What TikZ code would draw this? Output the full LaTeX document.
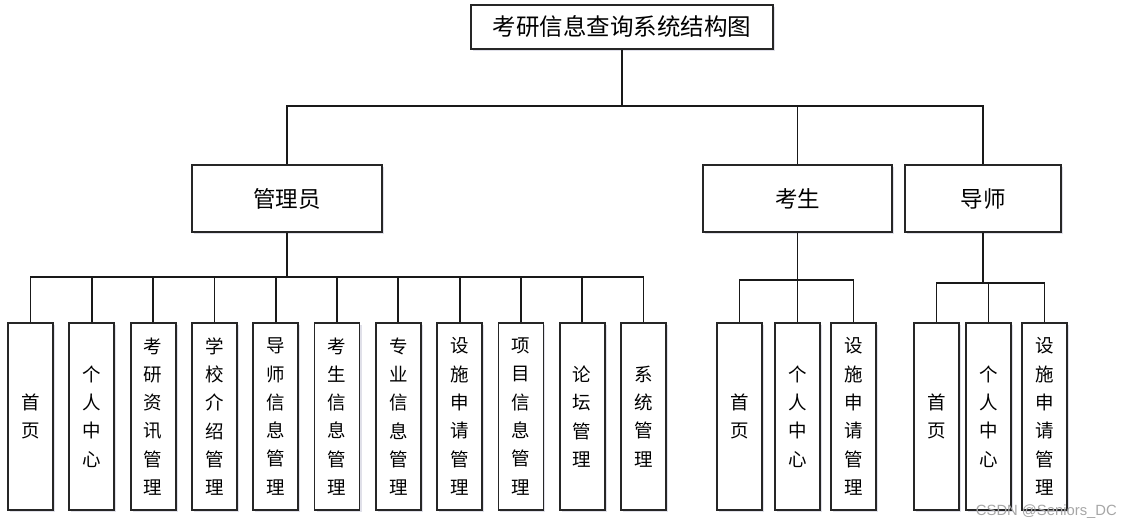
\documentclass[tikz,border=0pt]{standalone}
\usepackage{fontspec}
\setmainfont{Liberation Sans}
\newfontfamily\cjk{Noto Sans CJK SC}
\usetikzlibrary{shadows}
\begin{document}
\begin{tikzpicture}[x=1pt,y=-1pt,
  box/.style={draw=black!85, line width=1.8pt, fill=white, inner sep=0pt,
    drop shadow={shadow xshift=2pt, shadow yshift=-2pt, fill=blue!30!black, opacity=0.12}},
  titlebox/.style={box, minimum width=302pt, minimum height=44pt, font=\cjk\fontsize{23.5}{28}\selectfont},
  midbox/.style={box, minimum height=67pt, font=\cjk\fontsize{22.5}{27}\selectfont},
  leaf/.style={box, minimum width=45pt, minimum height=187pt, align=center,
    font=\cjk\fontsize{18.5}{28.3}\selectfont},
  conn/.style={draw=black!90, line width=1.8pt},
  wm/.style={text=black!35, font=\fontsize{14.8}{16}\selectfont, inner sep=0pt, anchor=base east}]
\useasboundingbox (0,0) rectangle (1133,526);

% top
\node[titlebox] (title) at (622,27) {考研信息查询系统结构图};

% second level
\node[midbox, minimum width=190pt] (adm) at (287,198.5) {管理员};
\node[midbox, minimum width=189pt] (stu) at (797.5,198.5) {考生};
\node[midbox, minimum width=156pt] (tut) at (983,198.5) {导师};

% admin leaves
\node[leaf] (a1) at (30.5,416.5) {首\\页};
\node[leaf] (a2) at (91.8,416.5) {个\\人\\中\\心};
\node[leaf] (a3) at (153.1,416.5) {考\\研\\资\\讯\\管\\理};
\node[leaf] (a4) at (214.4,416.5) {学\\校\\介\\绍\\管\\理};
\node[leaf] (a5) at (275.7,416.5) {导\\师\\信\\息\\管\\理};
\node[leaf] (a6) at (337.0,416.5) {考\\生\\信\\息\\管\\理};
\node[leaf] (a7) at (398.3,416.5) {专\\业\\信\\息\\管\\理};
\node[leaf] (a8) at (459.6,416.5) {设\\施\\申\\请\\管\\理};
\node[leaf] (a9) at (520.9,416.5) {项\\目\\信\\息\\管\\理};
\node[leaf] (a10) at (582.2,416.5) {论\\坛\\管\\理};
\node[leaf] (a11) at (643.5,416.5) {系\\统\\管\\理};

% student leaves
\node[leaf] (s1) at (739.5,416.5) {首\\页};
\node[leaf] (s2) at (797.5,416.5) {个\\人\\中\\心};
\node[leaf] (s3) at (853.5,416.5) {设\\施\\申\\请\\管\\理};

% tutor leaves
\node[leaf] (t1) at (936.5,416.5) {首\\页};
\node[leaf] (t2) at (988.5,416.5) {个\\人\\中\\心};
\node[leaf] (t3) at (1044.5,416.5) {设\\施\\申\\请\\管\\理};

% junction coordinates
\coordinate (h1) at (622,106);
\coordinate (h2) at (287,277);
\coordinate (h3) at (797.5,280);
\coordinate (h4) at (983,283);

% connectors
\draw[conn] (title.south) -- (h1);
\foreach \n in {adm,stu,tut} \draw[conn] (\n.north) |- (h1);
\draw[conn] (adm.south) -- (h2);
\foreach \n in {a1,a2,a3,a4,a5,a6,a7,a8,a9,a10,a11} \draw[conn] (\n.north) |- (h2);
\draw[conn] (stu.south) -- (h3);
\foreach \n in {s1,s2,s3} \draw[conn] (\n.north) |- (h3);
\draw[conn] (tut.south) -- (h4);
\foreach \n in {t1,t2,t3} \draw[conn] (\n.north) |- (h4);

% watermark
\node[wm] (wmk) at (1117,515) {CSDN @Seniors\_DC};
\end{tikzpicture}
\end{document}
